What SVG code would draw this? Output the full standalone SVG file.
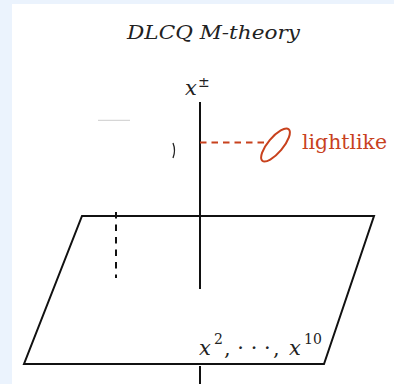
<svg xmlns="http://www.w3.org/2000/svg" width="394" height="384" viewBox="0 0 394 384">
  <style>
    .ink { stroke: #111; stroke-width: 2; fill: none; }
    .red { stroke: #c8411d; stroke-width: 2; fill: none; }
    .math { font-family: "DejaVu Serif", serif; font-style: italic; fill: #222; }
    .rm { font-family: "DejaVu Serif", serif; fill: #222; }
  </style>
  <rect x="0" y="0" width="394" height="384" fill="#ebf3fd"/>
  <rect x="12" y="4" width="382" height="380" fill="#ffffff"/>

  <g id="title">
    <text class="math" x="127" y="39" font-size="19" textLength="173" lengthAdjust="spacingAndGlyphs">DLCQ M-theory</text>
  </g>

  <g id="plane">
    <polygon class="ink" points="82,216 374,216 324,364 24,364" stroke-linejoin="miter"/>
    <text class="math" x="199" y="355" font-size="21">x</text>
    <text class="rm" x="214" y="344" font-size="14">2</text>
    <text class="rm" x="224" y="355" font-size="21">,</text>
    <text class="rm" x="254" y="355" font-size="21" text-anchor="middle">· · ·</text>
    <text class="rm" x="273" y="355" font-size="21">,</text>
    <text class="math" x="289" y="355" font-size="21">x</text>
    <text class="rm" x="304" y="344" font-size="14">10</text>
  </g>

  <g id="axis">
    <text class="math" x="185" y="95" font-size="21">x</text>
    <text class="rm" x="198" y="87" font-size="14">±</text>
  </g>

  <g id="lightlike">
    <ellipse class="red" cx="275.5" cy="145" rx="20.5" ry="7.5" transform="rotate(-50 275.5 145)"/>
    <text class="rm" x="302" y="148.5" font-size="21" style="fill:#c8411d" textLength="85" lengthAdjust="spacingAndGlyphs">lightlike</text>
  </g>

  <g id="connectors">
    <line class="ink" x1="200" y1="102" x2="200" y2="289"/>
    <line class="ink" x1="200" y1="366" x2="200" y2="384"/>
    <line class="ink" x1="116" y1="212" x2="116" y2="278" stroke-dasharray="6.5 6"/>
    <line class="red" x1="200" y1="142.5" x2="264" y2="142.5" stroke-dasharray="6.5 5"/>
    <line x1="98" y1="120.3" x2="130" y2="120.3" stroke="#ccc" stroke-width="1"/>
    <path d="M173,143 Q176,150.5 173,158" stroke="#222" stroke-width="1.3" fill="none"/>
  </g>
</svg>
